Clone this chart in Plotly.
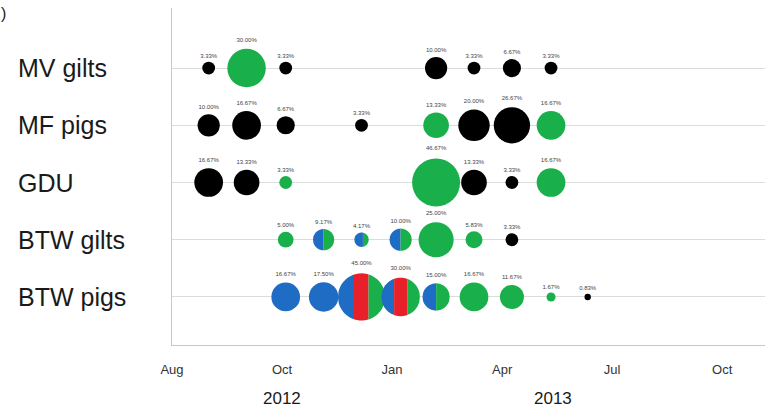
import numpy as np
import plotly.graph_objects as go

# ---- data -------------------------------------------------------------
rows = ["MV gilts", "MF pigs", "GDU", "BTW gilts", "BTW pigs"]
row_pos = [5, 4, 3, 2, 1]

mv_dates = ["2012-08-31", "2012-10-01", "2012-11-02", "2013-03-05", "2013-04-05", "2013-05-06", "2013-06-07"]
mv_pct = [3.33, 30.00, 3.33, 10.00, 3.33, 6.67, 3.33]
mv_mix = [{"K": 1}, {"G": 1}, {"K": 1}, {"K": 1}, {"K": 1}, {"K": 1}, {"K": 1}]

mf_dates = ["2012-08-31", "2012-10-01", "2012-11-02", "2013-01-03", "2013-03-05", "2013-04-05", "2013-05-06", "2013-06-07"]
mf_pct = [10.00, 16.67, 6.67, 3.33, 13.33, 20.00, 26.67, 16.67]
mf_mix = [{"K": 1}, {"K": 1}, {"K": 1}, {"K": 1}, {"G": 1}, {"K": 1}, {"K": 1}, {"G": 1}]

gdu_dates = ["2012-08-31", "2012-10-01", "2012-11-02", "2013-03-05", "2013-04-05", "2013-05-06", "2013-06-07"]
gdu_pct = [16.67, 13.33, 3.33, 46.67, 13.33, 3.33, 16.67]
gdu_mix = [{"K": 1}, {"K": 1}, {"G": 1}, {"G": 1}, {"K": 1}, {"K": 1}, {"G": 1}]

btwg_dates = ["2012-11-02", "2012-12-03", "2013-01-03", "2013-02-04", "2013-03-05", "2013-04-05", "2013-05-06"]
btwg_pct = [5.00, 9.17, 4.17, 10.00, 25.00, 5.83, 3.33]
btwg_mix = [{"G": 1}, {"B": 0.5, "G": 0.5}, {"B": 0.6, "G": 0.4}, {"B": 0.5, "G": 0.5},
            {"G": 1}, {"G": 1}, {"K": 1}]

btwp_dates = ["2012-11-02", "2012-12-03", "2013-01-03", "2013-02-04", "2013-03-05", "2013-04-05",
              "2013-05-06", "2013-06-07", "2013-07-07"]
btwp_pct = [16.67, 17.50, 45.00, 30.00, 15.00, 16.67, 11.67, 1.67, 0.83]
btwp_mix = [{"B": 1}, {"B": 1}, {"B": 0.34, "R": 0.31, "G": 0.35}, {"B": 0.33, "R": 0.34, "G": 0.33},
            {"B": 0.5, "G": 0.5}, {"G": 1}, {"G": 1}, {"G": 1}, {"K": 1}]

x_ticks_start = "2012-08-01"
x_range = ["2012-08-01", "2013-11-29"]
year_labels = ["2012", "2013"]
year_label_dates = ["2012-10-30", "2013-06-09"]

# ---- style ------------------------------------------------------------
palette = {"K": "#000000", "G": "#19b04b", "B": "#1f6cc4", "R": "#e8202a"}
stripe_order = ["B", "R", "G", "K"]
SIZE_K = 7.03            # bubble diameter (px) per sqrt(percent)
FONT = "Liberation Sans"

series = [
    (mv_dates, mv_pct, mv_mix),
    (mf_dates, mf_pct, mf_mix),
    (gdu_dates, gdu_pct, gdu_mix),
    (btwg_dates, btwg_pct, btwg_mix),
    (btwp_dates, btwp_pct, btwp_mix),
]


def stripe_path(r, a, b, n=24):
    """Vertical band of a circle of radius r between x=a and x=b (pixels)."""
    xs_top = np.linspace(a, b, n)
    xs_bot = xs_top[::-1]
    pts = [(x, np.sqrt(max(r * r - x * x, 0.0))) for x in xs_top]
    pts += [(x, -np.sqrt(max(r * r - x * x, 0.0))) for x in xs_bot]
    return "M " + " L ".join(f"{x:.2f},{y:.2f}" for x, y in pts) + " Z"


fig = go.Figure()
shapes = []

for (dates, pct, mix), ypos in zip(series, row_pos):
    diam = [SIZE_K * np.sqrt(v) for v in pct]
    colors = []
    for d, m, dia in zip(dates, mix, diam):
        if len(m) == 1:
            colors.append(palette[next(iter(m))])
            continue
        colors.append("rgba(0,0,0,0)")
        r = dia / 2.0
        left = -r
        for key in stripe_order:
            if key not in m:
                continue
            right = left + 2 * r * m[key]
            shapes.append(dict(
                type="path", xref="x", yref="y",
                xsizemode="pixel", ysizemode="pixel",
                xanchor=d, yanchor=ypos,
                path=stripe_path(r, left, min(right, r)),
                fillcolor=palette[key], line=dict(width=0), layer="above",
            ))
            left = right
    fig.add_trace(go.Scatter(
        x=dates, y=[ypos] * len(dates),
        mode="markers+text",
        marker=dict(size=diam, sizemode="diameter", color=colors, line=dict(width=0), opacity=1),
        text=[f"{v:.2f}%" for v in pct],
        textposition="top center",
        textfont=dict(family=FONT, size=6, color="#444444"),
        hoverinfo="skip", showlegend=False, cliponaxis=False,
    ))

annotations = []
for name, ypos in zip(rows, row_pos):
    annotations.append(dict(
        text=name, xref="paper", yref="y", x=-0.263, y=ypos,
        xanchor="left", yanchor="middle", showarrow=False,
        font=dict(family=FONT, size=25, color="#1a1a1a"),
    ))
for lab, d in zip(year_labels, year_label_dates):
    annotations.append(dict(
        text=lab, xref="x", yref="paper", x=d, y=-0.16,
        xanchor="center", yanchor="middle", showarrow=False,
        font=dict(family=FONT, size=17, color="#1a1a1a"),
    ))
annotations.append(dict(
    text=")", xref="paper", yref="paper", x=-0.292, y=1.015,
    xanchor="left", yanchor="top", showarrow=False,
    font=dict(family=FONT, size=16, color="#1a1a1a"),
))

fig.update_layout(
    width=772, height=411,
    margin=dict(l=172, r=7, t=8, b=66),
    paper_bgcolor="white", plot_bgcolor="white",
    shapes=shapes, annotations=annotations,
    xaxis=dict(
        type="date", range=x_range, tick0=x_ticks_start, dtick=90 * 86400000,
        tickformat="%b", showgrid=False, zeroline=False,
        showline=True, linecolor="#c8c8c8", linewidth=1,
        ticks="outside", ticklen=12, tickcolor="rgba(0,0,0,0)",
        tickfont=dict(family=FONT, size=13, color="#333333"),
    ),
    yaxis=dict(
        range=[0.16, 6.05], tickvals=row_pos, showticklabels=False,
        showgrid=True, gridcolor="#dcdcdc", gridwidth=1, zeroline=False,
        showline=True, linecolor="#c8c8c8", linewidth=1,
    ),
)

fig.write_html("out.html")
